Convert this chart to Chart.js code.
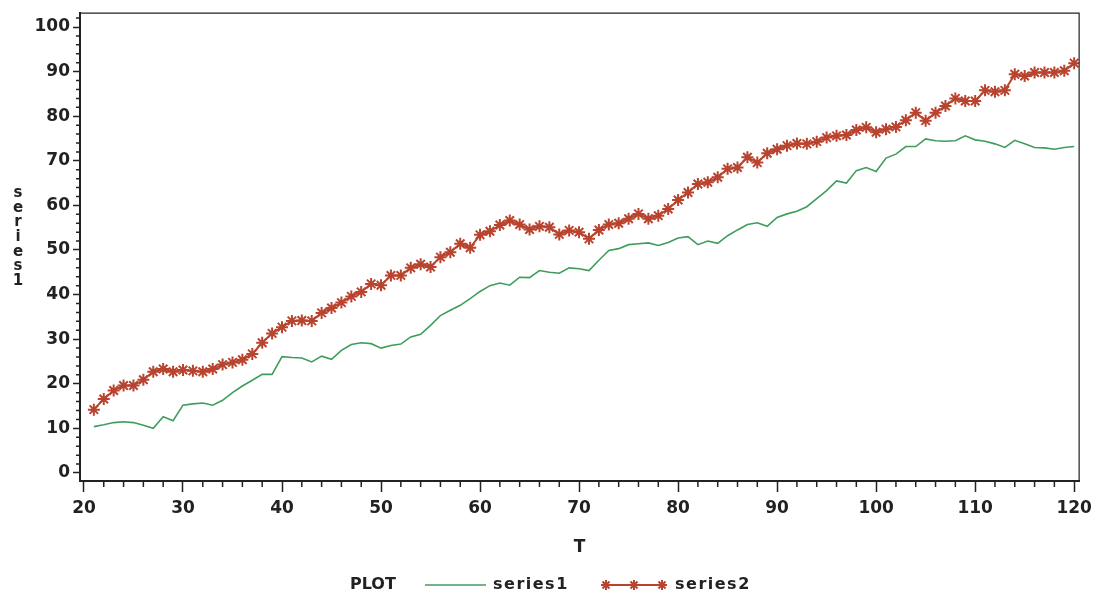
<!DOCTYPE html>
<html>
<head>
<meta charset="utf-8">
<script src="https://cdn.jsdelivr.net/npm/chart.js@4.4.1/dist/chart.umd.min.js"></script>
<style>
  html, body { margin: 0; padding: 0; background: #fff; }
</style>
</head>
<body>
<canvas id="line-chart" width="1098" height="596"></canvas>
<script>
// T values (x axis)
const T = [
	21, 22, 23, 24, 25, 26, 27, 28, 29, 30,
	31, 32, 33, 34, 35, 36, 37, 38, 39, 40,
	41, 42, 43, 44, 45, 46, 47, 48, 49, 50,
	51, 52, 53, 54, 55, 56, 57, 58, 59, 60,
	61, 62, 63, 64, 65, 66, 67, 68, 69, 70,
	71, 72, 73, 74, 75, 76, 77, 78, 79, 80,
	81, 82, 83, 84, 85, 86, 87, 88, 89, 90,
	91, 92, 93, 94, 95, 96, 97, 98, 99, 100,
	101, 102, 103, 104, 105, 106, 107, 108, 109, 110,
	111, 112, 113, 114, 115, 116, 117, 118, 119, 120,
];

const series1 = [
	10.4, 10.8, 11.3, 11.5, 11.3, 10.7, 10.0, 12.6, 11.7, 15.2,
	15.5, 15.7, 15.2, 16.3, 18.0, 19.5, 20.8, 22.1, 22.1, 26.1,
	25.9, 25.8, 24.9, 26.2, 25.5, 27.5, 28.8, 29.2, 29.0, 28.0,
	28.6, 28.9, 30.5, 31.1, 33.1, 35.3, 36.5, 37.6, 39.1, 40.7,
	42.0, 42.6, 42.1, 43.9, 43.8, 45.4, 45.0, 44.8, 46.0, 45.8,
	45.4, 47.7, 49.9, 50.3, 51.2, 51.4, 51.6, 51.0, 51.7, 52.7,
	53.0, 51.2, 52.0, 51.5, 53.2, 54.5, 55.7, 56.1, 55.3, 57.3,
	58.1, 58.7, 59.7, 61.5, 63.3, 65.5, 65.0, 67.8, 68.5, 67.6,
	70.6, 71.5, 73.2, 73.2, 74.9, 74.5, 74.4, 74.5, 75.6, 74.7,
	74.4, 73.8, 73.0, 74.6, 73.8, 73.0, 72.9, 72.6, 73.0, 73.2,
];

const series2 = [
	14.2, 16.6, 18.5, 19.6, 19.6, 20.9, 22.7, 23.3, 22.7, 23.1,
	22.9, 22.7, 23.3, 24.3, 24.8, 25.4, 26.7, 29.2, 31.3, 32.7,
	34.1, 34.2, 34.1, 35.9, 37.0, 38.2, 39.6, 40.6, 42.4, 42.1,
	44.3, 44.3, 46.0, 46.8, 46.2, 48.4, 49.5, 51.4, 50.5, 53.4,
	54.2, 55.6, 56.6, 55.7, 54.6, 55.3, 55.1, 53.5, 54.4, 54.0,
	52.5, 54.5, 55.7, 56.0, 57.0, 58.1, 57.0, 57.7, 59.2, 61.2,
	62.9, 64.8, 65.2, 66.3, 68.2, 68.5, 70.8, 69.6, 71.7, 72.6,
	73.4, 73.9, 73.8, 74.3, 75.2, 75.6, 75.8, 76.9, 77.5, 76.4,
	77.1, 77.6, 79.1, 80.8, 79.0, 80.8, 82.3, 84.0, 83.4, 83.4,
	85.8, 85.5, 85.8, 89.4, 89.0, 89.8, 89.8, 89.8, 90.2, 91.9,
];

const xTicks = [20, 30, 40, 50, 60, 70, 80, 90, 100, 110, 120];
const yTicks = [0, 10, 20, 30, 40, 50, 60, 70, 80, 90, 100];

const green = "#3f9d5c";
const red = "#b8432e";
const ink = "#222222";
const font = { family: "DejaVu Sans", size: 17, weight: "bold" };

// minor ticks, top/right frame, stacked y title and the PLOT legend
const extras = {
	id: "extras",
	afterDraw(chart) {
		const { ctx, chartArea, scales } = chart;
		ctx.save();
		ctx.strokeStyle = ink;
		ctx.lineWidth = 1.5;
		ctx.beginPath();
		for (let v = 20; v <= 120; v += 2) {
			if (v % 10 === 0) continue;
			const px = scales.x.getPixelForValue(v);
			ctx.moveTo(px, chartArea.bottom);
			ctx.lineTo(px, chartArea.bottom + 6);
		}
		for (let v = 0; v <= 102; v += 2) {
			if (v % 10 === 0) continue;
			const py = scales.y.getPixelForValue(v);
			ctx.moveTo(chartArea.left, py);
			ctx.lineTo(chartArea.left - 4, py);
		}
		ctx.stroke();

		ctx.lineWidth = 1.2;
		ctx.beginPath();
		ctx.moveTo(chartArea.left, chartArea.top);
		ctx.lineTo(chartArea.right, chartArea.top);
		ctx.lineTo(chartArea.right, chartArea.bottom);
		ctx.stroke();

		ctx.fillStyle = ink;
		ctx.font = "bold 15px 'DejaVu Sans'";
		ctx.textAlign = "center";
		ctx.textBaseline = "middle";
		const letters = "series1".split("");
		letters.forEach((ch, i) => {
			ctx.fillText(ch, 18, 193 + i * 14.7);
		});

		// legend
		const ly = 585;
		ctx.font = "bold 16px 'DejaVu Sans'";
		ctx.textAlign = "left";
		ctx.fillText("PLOT", 350, ly);

		ctx.strokeStyle = green;
		ctx.lineWidth = 1.6;
		ctx.beginPath();
		ctx.moveTo(425, ly);
		ctx.lineTo(486, ly);
		ctx.stroke();
		ctx.letterSpacing = "1.5px";
		ctx.fillText("series1", 493, ly);

		ctx.strokeStyle = red;
		ctx.lineWidth = 2;
		ctx.beginPath();
		ctx.moveTo(602, ly);
		ctx.lineTo(666, ly);
		ctx.stroke();
		[606, 634, 662].forEach((sx) => {
			Chart.helpers.drawPoint(ctx, { pointStyle: "star", radius: 5, rotation: 0, borderWidth: 2 }, sx, ly);
		});
		ctx.fillText("series2", 675, ly);
		ctx.restore();
	},
};

new Chart(document.getElementById("line-chart"), {
	type: "line",
	data: {
		datasets: [
			{
				label: "series1",
				data: series1.map((v, i) => ({ x: T[i], y: v })),
				borderColor: green,
				borderWidth: 1.6,
				pointRadius: 0,
				fill: false,
			},
			{
				label: "series2",
				data: series2.map((v, i) => ({ x: T[i], y: v })),
				borderColor: red,
				borderWidth: 2,
				pointStyle: "star",
				pointRadius: 6,
				pointBorderColor: red,
				pointBackgroundColor: red,
				pointBorderWidth: 2,
				fill: false,
			},
		],
	},
	options: {
		responsive: false,
		animation: false,
		layout: { padding: { left: 0, right: 15, top: 12, bottom: 36 } },
		plugins: {
			legend: { display: false },
			title: { display: false },
			tooltip: { enabled: false },
		},
		scales: {
			x: {
				type: "linear",
				min: 19.6,
				max: 120.5,
				afterBuildTicks: (scale) => {
					scale.ticks = xTicks.map((v) => ({ value: v }));
				},
				afterFit: (scale) => {
					scale.height = 79;
				},
				ticks: { font: font, color: ink, padding: 6, maxRotation: 0 },
				grid: { drawOnChartArea: false, tickLength: 11, tickColor: ink, tickWidth: 1.5 },
				border: { color: ink, width: 2 },
				title: { display: true, text: "T", font: font, color: ink, padding: { top: 0, bottom: 2 } },
			},
			y: {
				type: "linear",
				min: -1.8,
				max: 103.1,
				afterBuildTicks: (scale) => {
					scale.ticks = yTicks.map((v) => ({ value: v }));
				},
				afterFit: (scale) => {
					scale.width = 80;
				},
				ticks: { font: font, color: ink, padding: 3 },
				grid: { drawOnChartArea: false, tickLength: 7, tickColor: ink, tickWidth: 1.5 },
				border: { color: ink, width: 2 },
			},
		},
	},
	plugins: [extras],
});
</script>
</body>
</html>
